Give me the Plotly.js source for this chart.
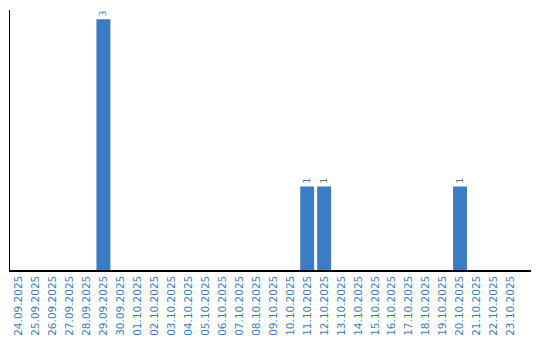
<!DOCTYPE html>
<html><head><meta charset="utf-8">
<script src="https://cdn.plot.ly/plotly-3.0.1.min.js"></script>
<style>html,body{margin:0;padding:0;background:#fff}</style>
</head><body><div id="chart" style="width:540px;height:340px"></div>
<script>
const dates = ["24.09.2025","25.09.2025","26.09.2025","27.09.2025","28.09.2025","29.09.2025","30.09.2025","01.10.2025","02.10.2025","03.10.2025","04.10.2025","05.10.2025","06.10.2025","07.10.2025","08.10.2025","09.10.2025","10.10.2025","11.10.2025","12.10.2025","13.10.2025","14.10.2025","15.10.2025","16.10.2025","17.10.2025","18.10.2025","19.10.2025","20.10.2025","21.10.2025","22.10.2025","23.10.2025"];
const counts = [0,0,0,0,0,3,0,0,0,0,0,0,0,0,0,0,0,1,1,0,0,0,0,0,0,0,1,0,0,0];
const labels = counts.map(v => v > 0 ? String(v) : "");

const blue = "#3b7dc4";
Plotly.newPlot("chart", [{
  type: "bar",
  x: dates,
  y: counts,
  text: labels,
  textposition: "outside",
  textangle: -90,
  cliponaxis: false,
  textfont: {family: "DejaVu Sans", size: 9, color: blue},
  marker: {color: blue},
  hoverinfo: "none"
}], {
  width: 540, height: 340,
  margin: {l: 10, r: 9, t: 10, b: 70},
  paper_bgcolor: "#fff", plot_bgcolor: "#fff",
  bargap: 0.18,
  showlegend: false,
  xaxis: {
    type: "category",
    range: [-0.5, 30.18],
    showline: true, linecolor: "#000", linewidth: 1.5,
    showgrid: false, zeroline: false, ticks: "",
    tickangle: -90,
    tickfont: {family: "DejaVu Sans", size: 10.5, color: blue}
  },
  yaxis: {
    range: [0, 3.11],
    showline: true, linecolor: "#000", linewidth: 1.5,
    showgrid: false, zeroline: false, ticks: "", showticklabels: false
  }
}, {staticPlot: true});
</script></body></html>
